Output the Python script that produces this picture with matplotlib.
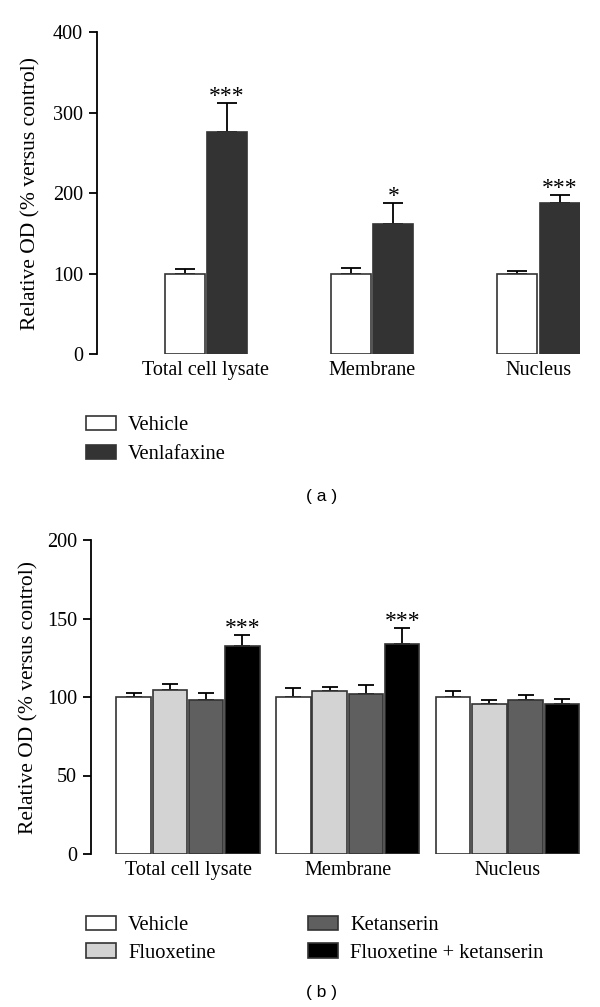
import numpy as np
import matplotlib
matplotlib.use("Agg")
import matplotlib.pyplot as plt

# panel (a)
groups = ["Total cell lysate", "Membrane", "Nucleus"]
a_labels = ["Vehicle", "Venlafaxine"]
a_vehicle = [100, 100, 100]
a_vehicle_err = [6, 7, 2.5]
a_venla = [276, 162, 188]
a_venla_err = [36, 25, 9]
a_stars = ["***", "*", "***"]

# panel (b)
b_labels = ["Vehicle", "Fluoxetine", "Ketanserin", "Fluoxetine + ketanserin"]
b_vehicle = [100, 100, 100]
b_vehicle_err = [2.3, 5.5, 3.6]
b_fluox = [104.5, 103.8, 95.5]
b_fluox_err = [4, 2.4, 2.4]
b_ketan = [97.8, 102, 97.8]
b_ketan_err = [5, 5.8, 3.5]
b_combo = [132.6, 134, 95.5]
b_combo_err = [6.8, 9.8, 3.4]
b_stars = ["***", "***", ""]

plt.rcParams['font.family'] = ['Liberation Serif', 'DejaVu Serif']
FS = 14.5

W, H = 600, 1007
fig = plt.figure(figsize=(W / 100, H / 100), dpi=100)


def px_axes(left, right, top, bottom):
    return fig.add_axes([left / W, 1 - bottom / H, (right - left) / W, (bottom - top) / H])


def style(ax, ymax, step):
    for s in ['top', 'right', 'bottom']:
        ax.spines[s].set_visible(False)
    ax.spines['left'].set_linewidth(1.3)
    ax.spines['left'].set_bounds(0, ymax)
    ax.set_ylim(0, ymax)
    ax.set_yticks(np.arange(0, ymax + 1, step))
    ax.tick_params(axis='y', direction='out', length=6, width=1.3, pad=4, labelsize=FS)
    ax.tick_params(axis='x', length=0, pad=5, labelsize=FS)
    ax.set_xticks(np.arange(len(groups)))
    ax.set_xticklabels(groups)
    ax.set_ylabel("Relative OD (% versus control)", fontsize=15.5)


def draw_bars(ax, series, errs, colors, pitch, width, stars, cap):
    x = np.arange(len(groups))
    n = len(series)
    handles = []
    for i, (vals, err, col) in enumerate(zip(series, errs, colors)):
        xi = x + (i - (n - 1) / 2) * pitch
        b = ax.bar(xi, vals, width, color=col, edgecolor='#333333', linewidth=1.2, zorder=2)
        ax.errorbar(xi, vals, yerr=[np.zeros(len(vals)), err], fmt='none', ecolor='black',
                    elinewidth=1.3, capsize=cap, capthick=1.3, zorder=1)
        handles.append(b)
    # significance marks on the last series
    xl = x + ((n - 1) / 2) * pitch
    top = np.array(series[-1]) + np.array(errs[-1])
    ymax = ax.get_ylim()[1]
    for xx, tt, st in zip(xl, top, stars):
        if st:
            ax.text(xx, tt - ymax * 0.012, st, ha='center', va='bottom', fontsize=17)
    return handles


# ---- panel (a)
ax1 = px_axes(97, 580, 32, 354)
style(ax1, 400, 100)
ha = draw_bars(ax1, [a_vehicle, a_venla], [a_vehicle_err, a_venla_err],
               ['white', '#333333'], 0.255, 0.24, a_stars, 7)
ax1.set_xlim(-0.655, 2.25)
ax1.yaxis.set_label_coords(-0.118, 0.5)

fig.legend(ha, a_labels, loc='upper left', bbox_to_anchor=(86 / W, 1 - 416 / H),
           frameon=False, borderpad=0, borderaxespad=0, handlelength=1.45,
           handleheight=0.7, handletextpad=0.6, labelspacing=0.45, fontsize=14.8)
fig.text(322 / W, 1 - 496 / H, "( a )", ha='center', va='center',
         family=['Liberation Sans', 'DejaVu Sans'], fontsize=12.5)

# ---- panel (b)
ax2 = px_axes(91, 580, 540, 854)
style(ax2, 200, 50)
hb = draw_bars(ax2, [b_vehicle, b_fluox, b_ketan, b_combo],
               [b_vehicle_err, b_fluox_err, b_ketan_err, b_combo_err],
               ['white', '#d3d3d3', '#5f5f5f', 'black'], 0.227, 0.216, b_stars, 5.5)
ax2.set_xlim(-0.607, 2.453)
ax2.yaxis.set_label_coords(-0.108, 0.5)

fig.legend(hb, b_labels, loc='upper left', bbox_to_anchor=(86 / W, 1 - 916 / H), ncol=2,
           frameon=False, borderpad=0, borderaxespad=0, handlelength=1.45,
           handleheight=0.7, handletextpad=0.6, labelspacing=0.38, columnspacing=4.5,
           fontsize=14.8)
fig.text(322 / W, 1 - 992 / H, "( b )", ha='center', va='center',
         family=['Liberation Sans', 'DejaVu Sans'], fontsize=12.5)

fig.savefig("out.png", dpi=100, facecolor='white')
